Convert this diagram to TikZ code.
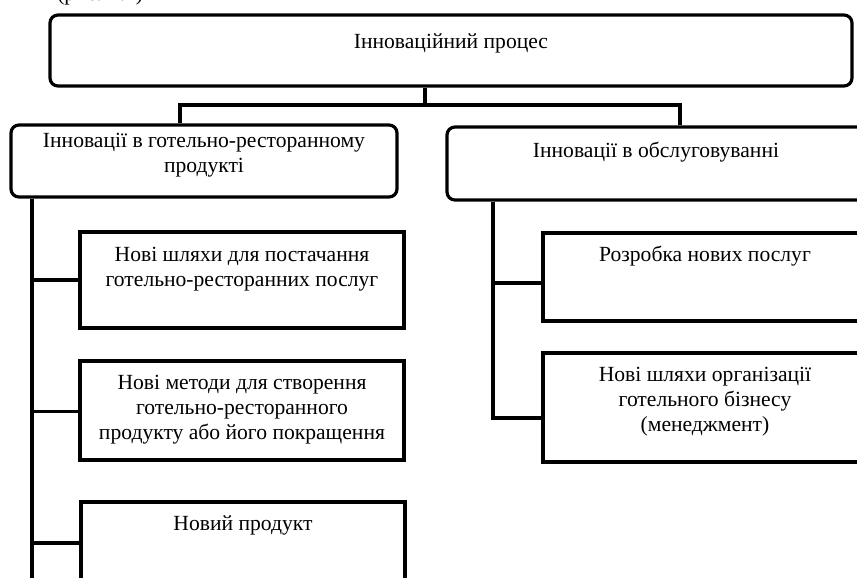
\documentclass[tikz,border=0pt]{standalone}
\usepackage{fontspec}
\setmainfont{Liberation Serif}
\tikzset{
  rbox/.style={draw, line width=2.4pt, rounded corners=6pt, inner sep=0pt},
  sbox/.style={draw, line width=2.4pt, inner sep=0pt},
  txt/.style={anchor=north, inner sep=0pt, align=center, font=\fontsize{16.2}{18.75}\selectfont},
  conn/.style={line width=2.4pt}
}
\begin{document}
\begin{tikzpicture}[x=0.75pt,y=-0.75pt]
\useasboundingbox (0,0) rectangle (857,578);
\clip (0,0) rectangle (857,578);
% clipped caption fragment
\node[anchor=base west, inner sep=0pt, font=\fontsize{16.2}{18.75}\selectfont] (cap) at (57,0.5) {(рис. 1.1)};
% boxes
\node[rbox, minimum width=601.5pt, minimum height=53.25pt] (T) at (451,50.5) {};
\node[rbox, minimum width=289.5pt, minimum height=54pt] (L) at (204,161) {};
\node[rbox, minimum width=313.5pt, minimum height=54.75pt] (R) at (656,163.5) {};
\node[sbox, minimum width=243pt, minimum height=72pt] (A) at (242,280) {};
\node[sbox, minimum width=243pt, minimum height=74.25pt] (B) at (242,410.5) {};
\node[sbox, minimum width=243pt, minimum height=73.5pt] (C) at (243,551) {};
\node[sbox, minimum width=243pt, minimum height=66pt] (D) at (705,277) {};
\node[sbox, minimum width=243pt, minimum height=81.75pt] (E) at (705,407.5) {};
% texts
\node[txt] (tT) at (451,33) {Інноваційний процес};
\node[txt] (tL) at (204,133) {Інновації в готельно-ресторанному\\продукті};
\node[txt] (tR) at (656,142) {Інновації в обслуговуванні};
\node[txt] (tA) at (242,247) {Нові шляхи для постачання\\готельно-ресторанних послуг};
\node[txt] (tB) at (242,375) {Нові методи для створення\\готельно-ресторанного\\продукту або його покращення};
\node[txt] (tC) at (243,515) {Новий продукт};
\node[txt] (tD) at (705,246) {Розробка нових послуг};
\node[txt] (tE) at (705,367) {Нові шляхи організації\\готельного бізнесу\\(менеджмент)};
% connector points
\coordinate (hub) at (425,105);
\coordinate (lx) at (180,105);
\coordinate (rx) at (680,105);
\coordinate (lt) at (32,600);
\coordinate (bA) at (32,280);
\coordinate (bB) at (32,411.5);
\coordinate (bC) at (32,543);
\coordinate (rt) at (493,418);
\coordinate (bD) at (493,283);
% connectors
\draw[conn] (T.south -| hub) -- (hub);
\draw[conn] (L.north -| lx) -- (lx) -- (rx) -- (R.north -| rx);
\draw[conn] (L.south -| lt) -- (lt);
\draw[conn] (bA) -- (bA -| A.west);
\draw[conn] (bB) -- (bB -| B.west);
\draw[conn] (bC) -- (bC -| C.west);
\draw[conn] (R.south -| rt) -- (rt) -- (rt -| E.west);
\draw[conn] (bD) -- (bD -| D.west);
\end{tikzpicture}
\end{document}
